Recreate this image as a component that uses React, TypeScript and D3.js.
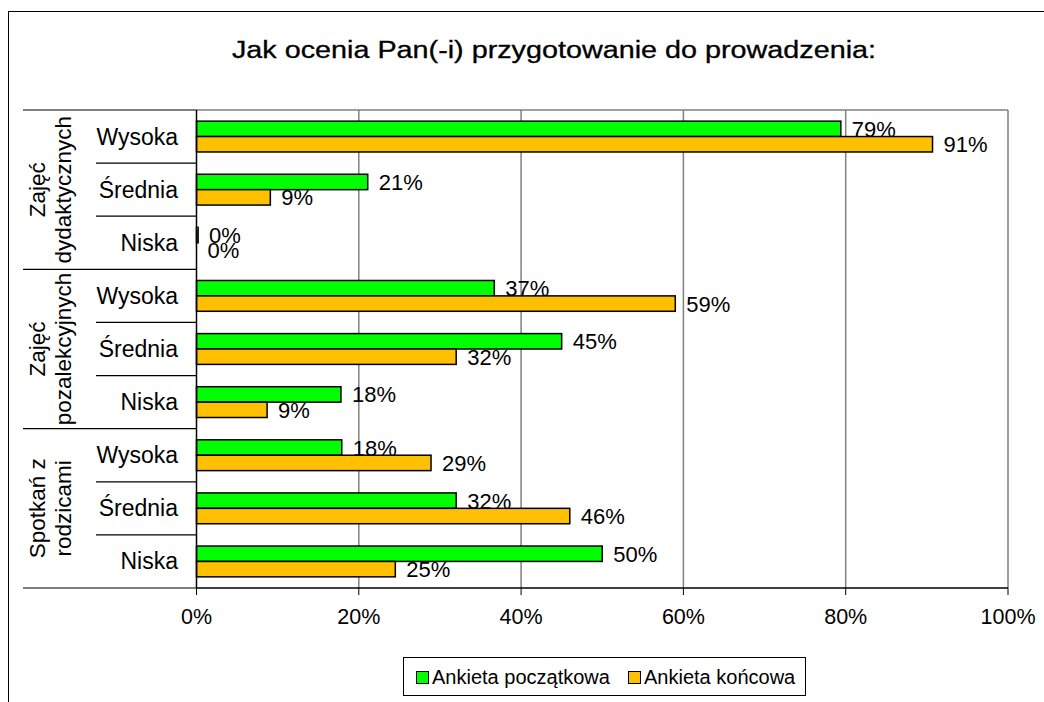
import React from "react";
import * as d3 from "d3";

const groups = [
  { lines: ["Zajęć", "dydaktycznych"] },
  { lines: ["Zajęć", "pozalekcyjnych"] },
  { lines: ["Spotkań z", "rodzicami"] },
];
const levels = ["Wysoka", "Średnia", "Niska"];
const seriesNames = ["Ankieta początkowa", "Ankieta końcowa"];
const seriesColors = ["#00FF00", "#FFC000"];
// values in %, order: group x level
const initialValues = [79.4, 21.1, 0.2, 36.7, 45, 17.8, 17.9, 32, 50];
const finalValues = [90.7, 9.1, 0, 59, 32, 8.7, 28.9, 46, 24.5];
const xTicks = [0, 20, 40, 60, 80, 100];

const FONT = "Arial, 'Liberation Sans', sans-serif";

export default function App() {
  const W = 1044, H = 702;
  const left = 196.5, right = 1008, top = 110, bottom = 588;
  const x = d3.scaleLinear().domain([0, 100]).range([left, right]);
  const cats = d3.range(9).map(String);
  const y = d3.scaleBand().domain(cats).range([top, bottom]).paddingInner(0.42).paddingOuter(0.21);
  const bw = y.bandwidth() / 2;
  const step = y.step();
  const series = [initialValues, finalValues];

  return (
    <svg width={W} height={H} style={{ position: "absolute", left: 0, top: 0, background: "#fff" }} fontFamily={FONT}>
      <rect x={8.5} y={11.5} width={1200} height={900} fill="#fff" stroke="#000" strokeWidth={1} />
      <text x={554} y={58} textAnchor="middle" fontSize={23} textLength={644} lengthAdjust="spacingAndGlyphs" fill="#000" stroke="#000" strokeWidth={0.3}>
        Jak ocenia Pan(-i) przygotowanie do prowadzenia:
      </text>
      {/* gridlines */}
      {xTicks.slice(1, -1).map((t) => (
        <line key={t} x1={x(t)} x2={x(t)} y1={top} y2={bottom} stroke="#808080" strokeWidth={1.5} />
      ))}
      <line x1={left} x2={right} y1={top} y2={top} stroke="#808080" strokeWidth={1.5} />
      <line x1={right} x2={right} y1={top} y2={bottom} stroke="#808080" strokeWidth={1.5} />
      {/* labels first, then bars on top */}
      {series.map((vals, si) =>
        vals.map((v, i) => {
          const by = (y(String(i)) as number) + si * bw;
          return (
            <text key={`l${si}-${i}`} x={x(v) + 11} y={by + bw / 2 + 8} fontSize={22} fill="#000">
              {Math.round(v)}%
            </text>
          );
        })
      )}
      {series.map((vals, si) =>
        vals.map((v, i) => {
          const by = (y(String(i)) as number) + si * bw;
          return (
            <rect key={`b${si}-${i}`} x={x(0)} y={by} width={x(v) - x(0)} height={bw}
              fill={seriesColors[si]} stroke="#000" strokeWidth={1.5} />
          );
        })
      )}
      {/* axes */}
      <line x1={left} x2={left} y1={top} y2={bottom} stroke="#000" strokeWidth={1.5} />
      <line x1={left} x2={right} y1={bottom} y2={bottom} stroke="#000" strokeWidth={1.5} />
      {xTicks.map((t) => (
        <g key={t}>
          <line x1={x(t)} x2={x(t)} y1={bottom} y2={bottom + 7} stroke="#000" strokeWidth={1} />
          <text x={x(t)} y={624} textAnchor="middle" fontSize={21.5} fill="#000">{t}%</text>
        </g>
      ))}
      {/* category axis separators */}
      {d3.range(10).map((k) => {
        const yy = top + k * step;
        const isGroup = k % 3 === 0;
        return <line key={k} x1={isGroup ? 23 : 96} x2={left} y1={yy} y2={yy} stroke="#000" strokeWidth={1.2} />;
      })}
      {cats.map((c, i) => (
        <text key={c} x={178} y={top + i * step + step / 2 + 8} textAnchor="end" fontSize={23} fill="#000">
          {levels[i % 3]}
        </text>
      ))}
      {groups.map((g, gi) => {
        const cy = top + (gi * 3 + 1.5) * step;
        return g.lines.map((ln, li) => (
          <text key={`${gi}-${li}`} transform={`translate(${45 + li * 26},${cy}) rotate(-90)`} textAnchor="middle" fontSize={22.5} fill="#000">
            {ln}
          </text>
        ));
      })}
      {/* legend */}
      <rect x={403.5} y={657.5} width={402} height={38} fill="#fff" stroke="#000" strokeWidth={1} />
      {seriesNames.map((n, i) => {
        const lx = i === 0 ? 416 : 628;
        return (
          <g key={n}>
            <rect x={lx + 0.5} y={671.5} width={12} height={12} fill={seriesColors[i]} stroke="#000" strokeWidth={1} />
            <text x={lx + 16} y={684} fontSize={20} fill="#000">{n}</text>
          </g>
        );
      })}
    </svg>
  );
}
